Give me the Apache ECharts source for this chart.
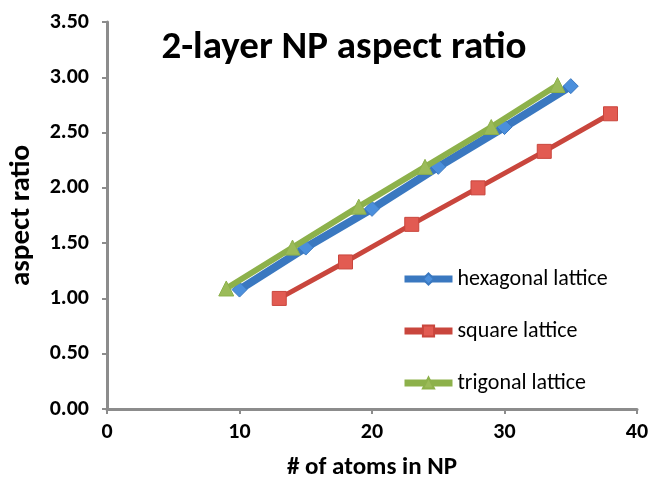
<!DOCTYPE html>
<html><head><meta charset="utf-8">
<script src="https://cdn.jsdelivr.net/npm/echarts@6/dist/echarts.min.js"></script>
<style>html,body{margin:0;padding:0;background:#fff}#c{width:654px;height:491px}</style>
</head><body><div id="c"></div>
<script>
var hexX = [10, 15, 20, 25, 30, 35];
var hexY = [1.08, 1.46, 1.81, 2.19, 2.55, 2.92];
var sqX = [13, 18, 23, 28, 33, 38];
var sqY = [1.00, 1.33, 1.67, 2.00, 2.33, 2.67];
var trX = [9, 14, 19, 24, 29, 34];
var trY = [1.09, 1.46, 1.83, 2.19, 2.55, 2.93];
var seriesNames = ['hexagonal lattice', 'square lattice', 'trigonal lattice'];

function pairs(xs, ys) { return xs.map(function (x, i) { return [x, ys[i]]; }); }
var font = 'Calibri, Carlito, "Open Sans", "Noto Sans", sans-serif';
var chart = echarts.init(document.getElementById('c'), null, {renderer: 'canvas'});
chart.setOption({
  animation: false,
  backgroundColor: '#fff',
  title: {
    text: '2-layer NP aspect ratio', left: 339, top: 24, textAlign: 'center',
    textStyle: {fontFamily: font, fontSize: 39, fontWeight: 'bold', color: '#000'}
  },
  legend: {
    orient: 'vertical', left: 396, top: 263, itemGap: 30,
    itemWidth: 48, itemHeight: 14,
    lineStyle: {width: 7},
    textStyle: {fontFamily: font, fontSize: 22, color: '#000'},
    data: seriesNames
  },
  grid: {left: 107, right: 17, top: 22, bottom: 82, containLabel: false, outerBoundsMode: 'none'},
  xAxis: {
    type: 'value', min: 0, max: 40, interval: 10,
    name: '# of atoms in NP', nameLocation: 'middle', nameGap: 46,
    nameTextStyle: {fontFamily: font, fontSize: 25, fontWeight: 'bold', color: '#000'},
    axisLine: {lineStyle: {color: '#8c8c8c', width: 3}},
    axisTick: {show: true, length: 5, lineStyle: {color: '#8c8c8c', width: 2}},
    axisLabel: {fontFamily: font, fontSize: 22, fontWeight: 'bold', color: '#000', margin: 12},
    splitLine: {show: false}
  },
  yAxis: {
    type: 'value', min: 0, max: 3.5, interval: 0.5,
    name: 'aspect ratio', nameLocation: 'middle', nameGap: 71, nameRotate: 90,
    nameTextStyle: {fontFamily: font, fontSize: 29, fontWeight: 'bold', color: '#000'},
    axisLine: {show: true, lineStyle: {color: '#8c8c8c', width: 3}},
    axisTick: {show: true, length: 5, lineStyle: {color: '#8c8c8c', width: 2}},
    axisLabel: {fontFamily: font, fontSize: 22, fontWeight: 'bold', color: '#000', margin: 18,
      formatter: function (v) { return v.toFixed(2); }},
    splitLine: {show: false}
  },
  series: [
    {name: seriesNames[0], type: 'line', data: pairs(hexX, hexY),
     symbol: 'diamond', symbolSize: 15,
     lineStyle: {color: '#3a78c0', width: 8},
     itemStyle: {color: '#4b8fdc', borderColor: '#3a78c0', borderWidth: 1}, z: 2},
    {name: seriesNames[1], type: 'line', data: pairs(sqX, sqY),
     symbol: 'rect', symbolSize: 14,
     lineStyle: {color: '#c9463d', width: 5},
     itemStyle: {color: '#e25b52', borderColor: '#c9463d', borderWidth: 1}, z: 3},
    {name: seriesNames[2], type: 'line', data: pairs(trX, trY),
     symbol: 'triangle', symbolSize: 15,
     lineStyle: {color: '#8db14b', width: 6},
     itemStyle: {color: '#9bbb59', borderColor: '#8db14b', borderWidth: 1}, z: 4}
  ]
});
</script></body></html>
